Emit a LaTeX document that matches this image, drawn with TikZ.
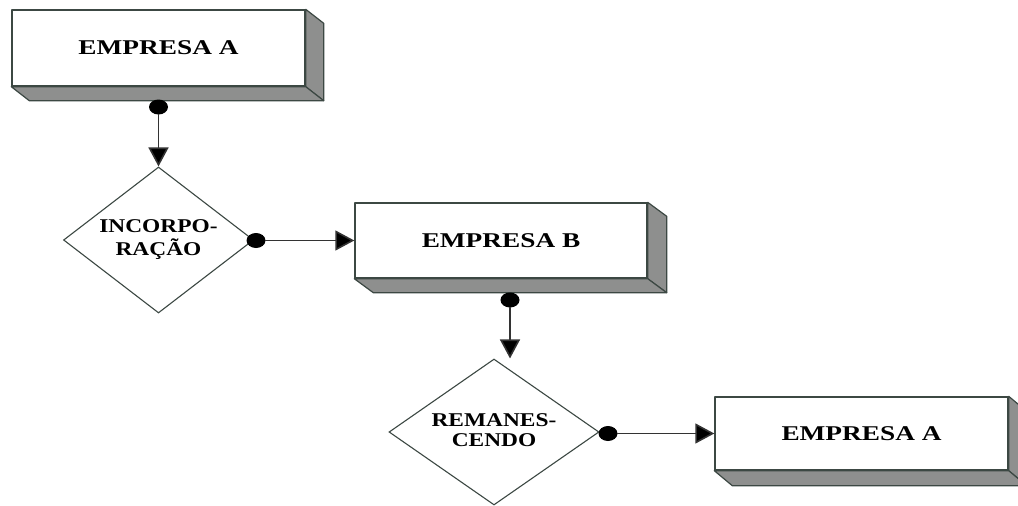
\documentclass[tikz,border=0pt]{standalone}
\usepackage{fontspec}
\setmainfont{Liberation Serif}
\usetikzlibrary{shapes.geometric,arrows.meta,calc}
\definecolor{frame}{HTML}{3C4843}
\definecolor{side}{HTML}{8E8F8E}
\definecolor{conncol}{HTML}{333333}
\newcommand\boxtext[1]{\scalebox{1.3}[1]{\fontsize{21}{24}\selectfont\bfseries #1}}
\newcommand\diatext[2]{\scalebox{1.2}[1]{\fontsize{19.5}{20}\selectfont\bfseries\begin{tabular}{@{}c@{}}#1\\#2\end{tabular}}}
\newcommand\extrude[3]{%
  \filldraw[sidestyle] (#1.north east) -- ++(#2,#3) -- ($(#1.south east)+(#2,#3)$) -- (#1.south east) -- cycle;
  \filldraw[sidestyle] (#1.south west) -- ++(#2,#3) -- ($(#1.south east)+(#2,#3)$) -- (#1.south east) -- cycle;}
\tikzset{
  box/.style={draw=frame, line width=1.4pt, fill=white, rectangle, inner sep=0pt, line join=round},
  sidestyle/.style={draw=frame, line width=1.2pt, fill=side, line join=round},
  dia/.style={draw=frame, line width=1.1pt, fill=white, diamond, inner sep=0pt},
  dot/.style={ellipse, fill=black, draw=none, minimum width=19pt, minimum height=15pt, inner sep=0pt},
  conn/.style={draw=conncol, line width=1.6pt, -{Triangle[length=19pt,width=20pt,fill=black]}, shorten <=-1pt},
}
\begin{document}
\begin{tikzpicture}[x=1pt,y=-1pt]
\useasboundingbox (0,0) rectangle (1018,506);
% boxes
\node[box, minimum width=293pt, minimum height=76pt] (b1) at (158.5,48) {\boxtext{EMPRESA A}};
\extrude{b1}{18}{14}
\node[box, minimum width=292pt, minimum height=75pt] (b2) at (501,240.5) {\boxtext{EMPRESA B}};
\extrude{b2}{19}{14}
\node[box, minimum width=293pt, minimum height=73pt] (b3) at (861.5,433.5) {\boxtext{EMPRESA A}};
\extrude{b3}{18}{15}
% diamonds
\node[dia, minimum width=190pt, minimum height=146pt] (d1) at (158.5,240) {};
\node at (d1.center) {\diatext{INCORPO-}{RAÇÃO}};
\node[dia, minimum width=210pt, minimum height=146pt] (d2) at (494,432) {};
\node at (d2.center) {\diatext{REMANES-}{CENDO}};
% dots
\node[dot] (p1) at (158.5,107) {};
\node[dot] (p2) at (256,240.5) {};
\node[dot] (p3) at (510,300) {};
\node[dot] (p4) at (608,433.5) {};
% connectors
\draw[conn] (p1) -- (d1.north);
\draw[conn] (p2) -- (b2.west);
\draw[conn] (p3) -- (p3 |- d2.north);
\draw[conn] (p4) -- (b3.west);
\end{tikzpicture}
\end{document}
